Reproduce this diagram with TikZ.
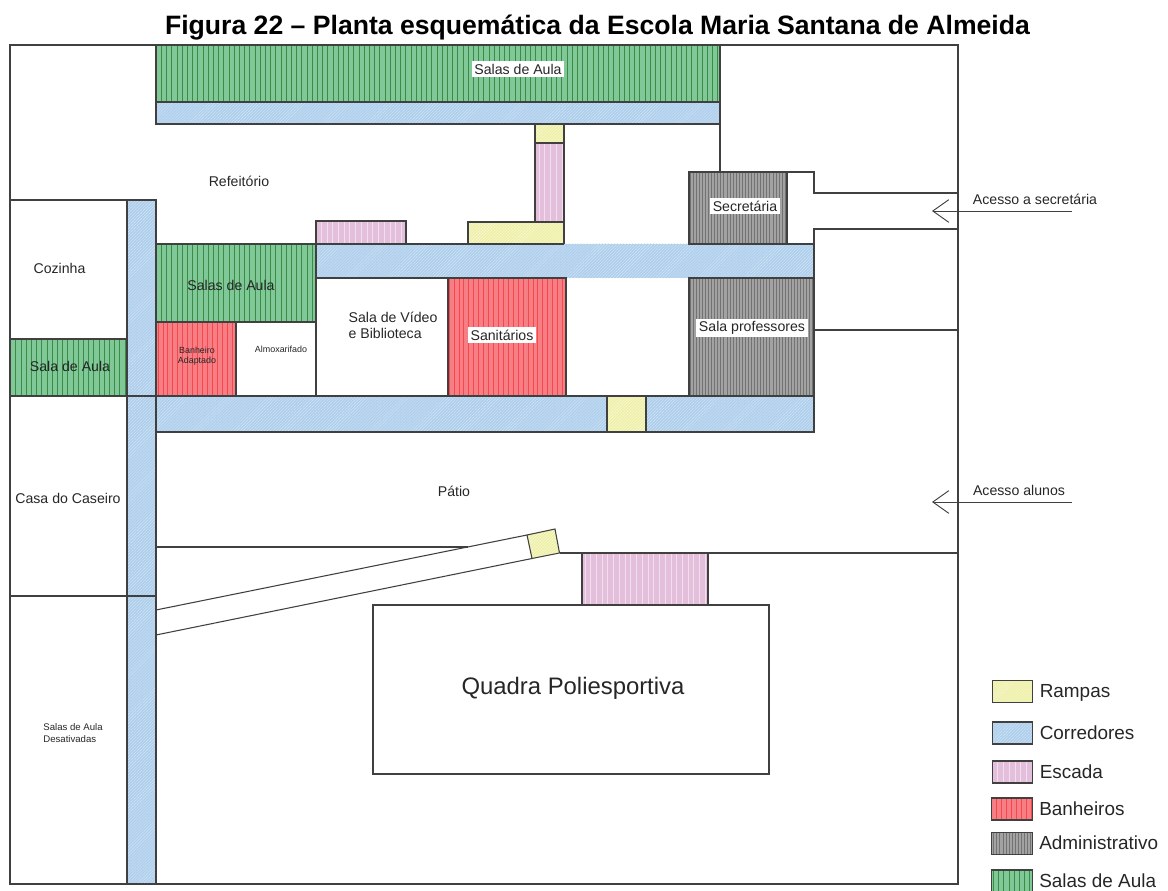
\documentclass[tikz,border=0pt]{standalone}
\usepackage{fontspec}
\setmainfont{Liberation Sans}
\usepackage{tikz}
\usetikzlibrary{arrows.meta, patterns.meta, positioning}
\definecolor{RampFill}{HTML}{EEF0A6}
\definecolor{HallFill}{HTML}{AFCFEC}
\definecolor{StairFill}{HTML}{E4BFDC}
\definecolor{BathFill}{HTML}{F67F86}
\definecolor{AdminFill}{HTML}{A2A2A2}
\definecolor{ClassFill}{HTML}{80C898}
\definecolor{WallInk}{HTML}{404040}
\tikzset{%
  wall/.style={%
    draw=WallInk,%
    line width=0.8pt,%
    line join=miter,%
  },
  ramp_area/.style={%
    wall,%
    preaction={fill=RampFill},%
    pattern={Lines[angle=45, distance=1.6pt, line width=0.3pt]},%
    pattern color=white!70!RampFill,%
  },
  hall_area/.style={%
    wall,%
    preaction={fill=HallFill},%
    pattern={Lines[angle=45, distance=1.6pt, line width=0.3pt]},%
    pattern color=white!45!HallFill,%
  },
  stair_area/.style={%
    wall,%
    preaction={fill=StairFill},%
    pattern={Lines[angle=90, distance=4.3pt, line width=0.4pt]},%
    pattern color=white!50!StairFill,%
  },
  bath_area/.style={%
    wall,%
    preaction={fill=BathFill},%
    pattern={Lines[angle=90, distance=3.7pt, line width=0.4pt]},%
    pattern color=red!45!BathFill,%
  },
  admin_area/.style={%
    wall,%
    preaction={fill=AdminFill},%
    pattern={Lines[angle=90, distance=2.3pt, line width=0.4pt]},%
    pattern color=black!55,%
  },
  class_area/.style={%
    wall,%
    preaction={fill=ClassFill},%
    pattern={Lines[angle=90, distance=3.9pt, line width=0.4pt]},%
    pattern color=green!35!black!55!ClassFill,%
  },
  annotate/.style={%
    font={\fontsize{10.6pt}{12.2pt}\selectfont},%
    text=black!85,%
    inner sep=1pt,%
    align=left,%
  },
  tiny_annotate/.style={%
    font={\fontsize{6.7pt}{7.4pt}\selectfont},%
    text=black!85,%
    inner sep=0pt,%
    align=left,%
  },
  boxed_annotate/.style={%
    annotate,%
    fill=white,%
    inner sep=2pt,%
  },
  key_swatch/.style={%
    rectangle,%
    minimum width=30.5pt,%
    minimum height=16.5pt,%
    inner sep=0pt,%
    outer sep=0pt,%
  },
  key_label/.style={%
    right=5pt of #1,%
    font={\fontsize{14.2pt}{16pt}\selectfont},%
    text=black!85,%
    text height=10.5pt,%
    text depth=3pt,%
    inner sep=0pt,%
    yshift=-1pt,%
  },
  access_arrow/.style={%
    draw=WallInk,%
    line width=0.7pt,%
    -{Straight Barb[length=12pt, width=17pt, line width=0.7pt]},%
  },
}
\begin{document}
\begin{tikzpicture}[x=0.75pt, y=-0.75pt]
    \useasboundingbox (0,0) rectangle (1168,891);
    \node [font={\bfseries\fontsize{19.95pt}{23pt}\selectfont}, inner sep=0pt] (title) at (597.5,28)
      {Figura 22 – Planta esquemática da Escola Maria Santana de Almeida};

    % frame
    \draw [wall] (10,45) rectangle (958,884);

    % upper block
    \draw [class_area] (156,45) rectangle (720,102);
    \draw [hall_area] (156,102) rectangle (720,124);
    \draw [ramp_area] (535,124) rectangle (564,143);
    \draw [stair_area] (535,143) rectangle (564,222);
    \draw [ramp_area] (468,222) rectangle (564,244);
    \draw [stair_area] (316,221) rectangle (406,244);
    \draw [wall] (720,124) -- (720,172);

    % left column
    \draw [wall] (10,200) rectangle (127,339);
    \draw [class_area] (10,339) rectangle (127,396);
    \draw [wall] (10,396) -- (127,396);
    \draw [wall] (10,596) -- (127,596);
    \draw [hall_area] (127,200) rectangle (156,884);
    \draw [wall] (127,396) -- (156,396);
    \draw [wall] (127,596) -- (156,596);

    % middle block
    \fill [hall_area, draw=none] (316,244) rectangle (814,278);
    \draw [wall] (564,244) -- (316,244) -- (316,278) -- (566,278);
    \draw [wall] (689,244) -- (814,244) -- (814,278) -- (689,278);
    \draw [class_area] (156,244) rectangle (316,322);
    \draw [bath_area] (156,322) rectangle (236,396);
    \draw [wall] (236,322) rectangle (316,396);
    \draw [wall] (316,278) rectangle (448,396);
    \draw [bath_area] (448,278) rectangle (566,396);
    \draw [admin_area] (689,278) rectangle (814,396);
    \draw [admin_area] (689,172) rectangle (787,244);
    \draw [hall_area] (156,396) rectangle (814,432);
    \draw [ramp_area] (607,396) rectangle (646,432);

    % access walls
    \draw [wall] (787,172) -- (814,172) -- (814,193) -- (958,193);
    \draw [wall] (814,244) -- (814,229) -- (958,229);
    \draw [wall] (814,330) -- (958,330);

    % yard and court
    \draw [wall] (156,547) -- (468,547);
    \draw [wall] (156,610) -- (527,535);
    \draw [wall] (156,635) -- (532,558.5);
    \draw [ramp_area] (527,535) -- (555,529) -- (559.5,553) -- (532,558.5) -- cycle;
    \draw [wall] (559.5,553) -- (958,553);
    \draw [stair_area] (582,553) rectangle (708,605);
    \draw [wall] (373,605) rectangle (769,774);

    % access arrows
    \coordinate (secretary_from) at (1072,211);
    \coordinate (secretary_to) at (932,211);
    \coordinate (students_from) at (1072,502);
    \coordinate (students_to) at (932,502);
    \draw [access_arrow] (secretary_from) -- (secretary_to);
    \draw [access_arrow] (students_from) -- (students_to);

    % labels
    \node [boxed_annotate] (top_class) at (518,69) {Salas de Aula};
    \node [annotate] (canteen) at (239,181) {Refeitório};
    \node [annotate] (kitchen) at (59.5,268) {Cozinha};
    \node [annotate] (mid_class) at (231,285) {Salas de Aula};
    \node [annotate] (side_class) at (70,366) {Sala de Aula};
    \node [tiny_annotate, align=center] (adapted_bath) at (197,356) {Banheiro\\Adaptado};
    \node [tiny_annotate] (storage) at (281,349) {Almoxarifado};
    \node [annotate] (video_room) at (393,325) {Sala de Vídeo\\e Biblioteca};
    \node [boxed_annotate] (toilets) at (502,335) {Sanitários};
    \node [boxed_annotate] (secretary) at (745,206) {Secretária};
    \node [boxed_annotate] (teachers) at (752,328) {Sala professores};
    \node [annotate] (caretaker) at (68,498) {Casa do Caseiro};
    \node [annotate] (yard) at (454,491) {Pátio};
    \node [tiny_annotate, font={\fontsize{7.2pt}{9pt}\selectfont}] (old_rooms) at (73,733) {Salas de Aula\\Desativadas};
    \node [font={\fontsize{17.9pt}{20pt}\selectfont}, text=black!85] (court) at (573,688) {Quadra Poliesportiva};
    \node [annotate] (secretary_access) at (1035,199) {Acesso a secretária};
    \node [annotate] (students_access) at (1019,490) {Acesso alunos};

    % key
    \node [key_swatch, ramp_area] (key_ramp) at (1012.5,691.5) {};
    \node [key_swatch, hall_area] (key_hall) at (1012.5,733) {};
    \node [key_swatch, stair_area] (key_stair) at (1012.5,772) {};
    \node [key_swatch, bath_area] (key_bath) at (1012,809) {};
    \node [key_swatch, admin_area] (key_admin) at (1012,843.5) {};
    \node [key_swatch, class_area] (key_class) at (1012,881) {};
    \node [key_label=key_ramp] (text_ramp) {Rampas};
    \node [key_label=key_hall] (text_hall) {Corredores};
    \node [key_label=key_stair] (text_stair) {Escada};
    \node [key_label=key_bath] (text_bath) {Banheiros};
    \node [key_label=key_admin] (text_admin) {Administrativo};
    \node [key_label=key_class] (text_class) {Salas de Aula};
  \end{tikzpicture}
\end{document}
